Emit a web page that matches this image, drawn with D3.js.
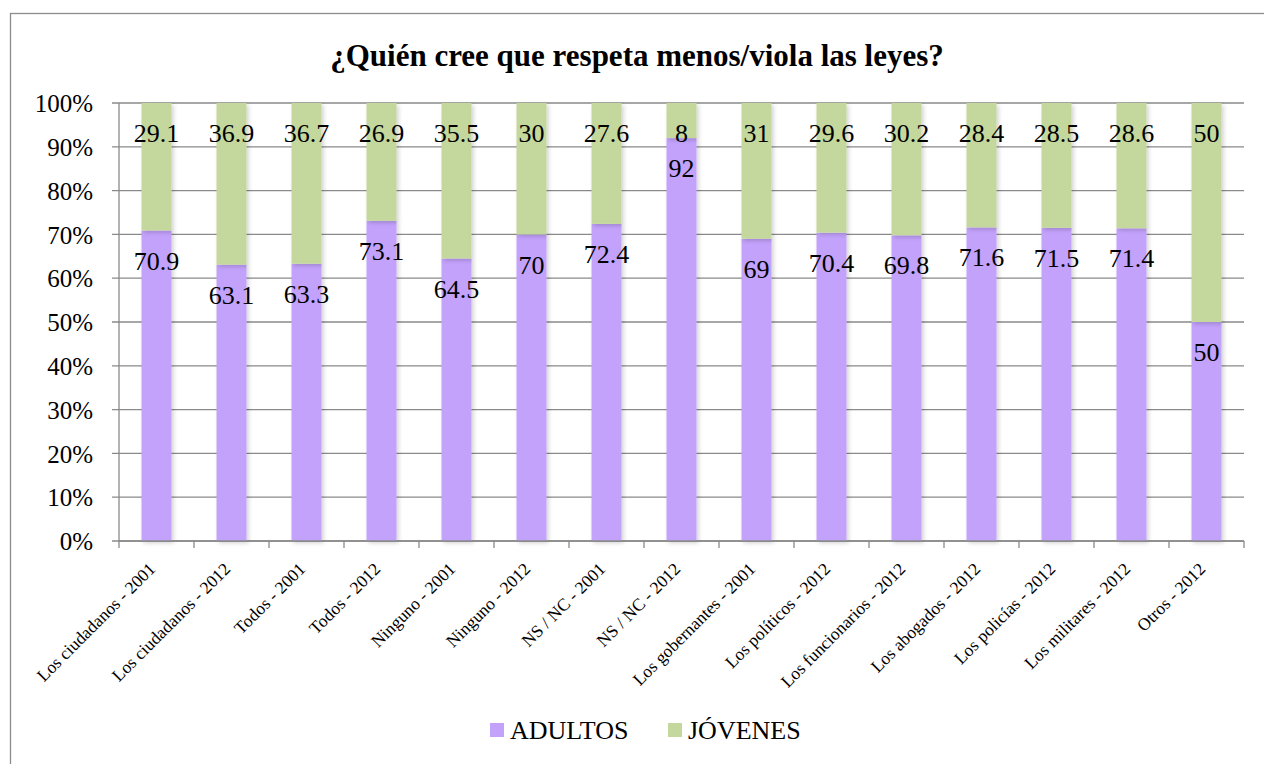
<!DOCTYPE html>
<html>
<head>
<meta charset="utf-8">
<script src="https://cdn.jsdelivr.net/npm/d3@7"></script>
<style>
  body { margin: 0; background: #fff; }
  text { font-family: "Liberation Serif", "Times New Roman", serif; fill: #000; }
</style>
</head>
<body>
<svg id="chart" width="1264" height="764"></svg>
<script>
// categories along the x axis
const categories = [
  'Los ciudadanos - 2001', 'Los ciudadanos - 2012', 'Todos - 2001', 'Todos - 2012',
  'Ninguno - 2001', 'Ninguno - 2012', 'NS / NC - 2001', 'NS / NC - 2012',
  'Los gobernantes - 2001', 'Los políticos - 2012', 'Los funcionarios - 2012',
  'Los abogados - 2012', 'Los policías - 2012', 'Los militares - 2012', 'Otros - 2012'
];
const adultos = [70.9, 63.1, 63.3, 73.1, 64.5, 70, 72.4, 92, 69, 70.4, 69.8, 71.6, 71.5, 71.4, 50];
const jovenes = [29.1, 36.9, 36.7, 26.9, 35.5, 30, 27.6, 8, 31, 29.6, 30.2, 28.4, 28.5, 28.6, 50];
const yTicks = [0, 10, 20, 30, 40, 50, 60, 70, 80, 90, 100];
const seriesNames = ['ADULTOS', 'JÓVENES'];
const colors = ['#c3a2fc', '#c4d79c'];

const svg = d3.select('#chart');
const margin = { top: 103, left: 119, right: 20, bottom: 223 };
const width = 1264 - margin.left - margin.right;   // 1125
const height = 764 - margin.top - margin.bottom;   // 438

// outer chart frame
svg.append('rect')
  .attr('x', 10.5).attr('y', 13.5)
  .attr('width', 1264).attr('height', 764)
  .attr('fill', 'none').attr('stroke', '#8c8c8c').attr('stroke-width', 1.3);

svg.append('text')
  .attr('x', 637).attr('y', 66)
  .attr('text-anchor', 'middle')
  .style('font-size', '31px').style('font-weight', 'bold')
  .text('¿Quién cree que respeta menos/viola las leyes?');

// light shadow under bars, like the original
const defs = svg.append('defs');
const f = defs.append('filter').attr('id', 'shadow').attr('x', '-20%').attr('y', '-5%').attr('width', '150%').attr('height', '120%');
f.append('feDropShadow').attr('dx', 2).attr('dy', 2).attr('stdDeviation', 2).attr('flood-color', '#000').attr('flood-opacity', 0.18);

const chart = svg.append('g').attr('transform', `translate(${margin.left},${margin.top})`);

const x = d3.scaleBand().domain(categories).range([0, width]).paddingInner(0.6).paddingOuter(0.3);
const y = d3.scaleLinear().domain([0, 100]).range([height, 0]);

// gridlines
chart.append('g')
  .selectAll('line')
  .data(yTicks)
  .enter()
  .append('line')
  .attr('x1', -7).attr('x2', width)
  .attr('y1', (d) => y(d)).attr('y2', (d) => y(d))
  .attr('stroke', '#8a8a8a').attr('stroke-width', 1.3);

// y axis
const yAxis = chart.append('g')
  .call(d3.axisLeft(y).tickValues(yTicks).tickFormat((d) => d + '%').tickSize(0).tickPadding(26));
yAxis.select('path.domain').remove();
yAxis.selectAll('text').style('font-size', '25px').attr('dy', '0.35em');
chart.append('line')
  .attr('x1', 0).attr('x2', 0).attr('y1', 0).attr('y2', height)
  .attr('stroke', '#8a8a8a').attr('stroke-width', 1.3);

// stacked data
const table = categories.map((c, i) => ({ cat: c, ADULTOS: adultos[i], 'JÓVENES': jovenes[i] }));
const stacked = d3.stack().keys(seriesNames)(table);

const layers = chart.append('g')
  .selectAll('g')
  .data(stacked)
  .enter()
  .append('g')
  .attr('fill', (_, i) => colors[i]);

layers.selectAll('rect')
  .data((d) => d)
  .enter()
  .append('rect')
  .attr('x', (d) => x(d.data.cat))
  .attr('y', (d) => y(d[1]))
  .attr('width', x.bandwidth())
  .attr('height', (d) => y(d[0]) - y(d[1]))
  .attr('filter', 'url(#shadow)');

// data labels, inside end of each segment
stacked.forEach((layer) => {
  chart.append('g')
    .selectAll('text')
    .data(layer)
    .enter()
    .append('text')
    .attr('x', (d) => x(d.data.cat) + x.bandwidth() / 2)
    .attr('y', (d) => y(d[1]) + 30)
    .attr('dy', '0.35em')
    .attr('text-anchor', 'middle')
    .style('font-size', '26px')
    .text((d) => d.data[layer.key]);
});

// x axis: baseline and ticks at category boundaries
const step = width / categories.length;
chart.append('line')
  .attr('x1', 0).attr('x2', width).attr('y1', height).attr('y2', height)
  .attr('stroke', '#8a8a8a').attr('stroke-width', 1.3);
chart.append('g')
  .selectAll('line')
  .data(d3.range(categories.length + 1))
  .enter()
  .append('line')
  .attr('x1', (i) => i * step).attr('x2', (i) => i * step)
  .attr('y1', height).attr('y2', height + 7)
  .attr('stroke', '#8a8a8a').attr('stroke-width', 1.3);

chart.append('g')
  .selectAll('text')
  .data(categories)
  .enter()
  .append('text')
  .attr('transform', (d) => `translate(${x(d) + x.bandwidth() / 2},${height + 29}) rotate(-45)`)
  .attr('text-anchor', 'end')
  .style('font-size', '17.5px')
  .text((d) => d);

// legend
const legend = svg.append('g').attr('transform', 'translate(490,723)');
const legendX = [0, 178];
seriesNames.forEach((name, i) => {
  legend.append('rect')
    .attr('x', legendX[i]).attr('y', 0)
    .attr('width', 14).attr('height', 14)
    .attr('fill', colors[i]);
  legend.append('text')
    .attr('x', legendX[i] + 20).attr('y', 7)
    .attr('dy', '0.35em')
    .style('font-size', '26px')
    .text(name);
});
</script>
</body>
</html>
